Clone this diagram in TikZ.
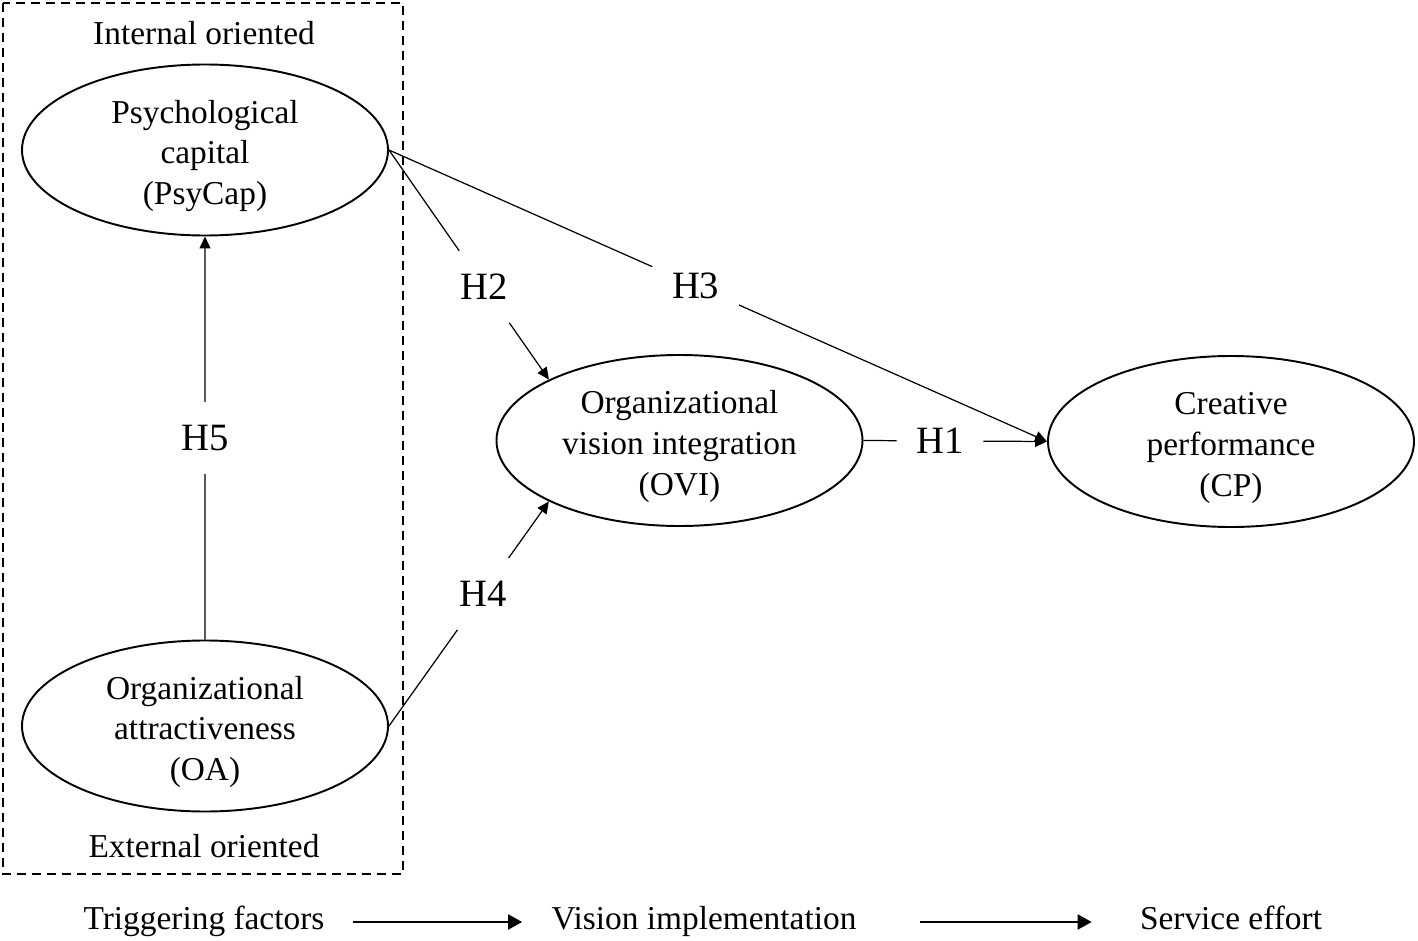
\documentclass[tikz,border=0pt]{standalone}
\usepackage{fontspec}
\setmainfont{Liberation Serif}
\usetikzlibrary{arrows.meta,positioning,calc,shapes.geometric}

\begin{document}
\begin{tikzpicture}[
    construct/.style={ellipse, draw, line width=1.1pt, minimum width=7.32cm, minimum height=3.42cm, inner sep=0pt, align=center, text height=62.5pt, text depth=0pt, font=\fontsize{19}{23.3}\selectfont},
    hyp/.style={font=\fontsize{22}{26}\selectfont, inner xsep=11pt, inner ysep=13pt},
    tag/.style={font=\fontsize{19}{23}\selectfont, inner sep=0pt, text height=13pt, text depth=4pt},
    link/.style={line width=0.7pt},
    arrow/.style={-{Triangle[length=0.24cm, width=0.22cm]}, line width=0.7pt},
    flow/.style={-{Triangle[length=0.28cm, width=0.3cm]}, line width=1.1pt}
]
\useasboundingbox (0,0) rectangle (28.36,-18.82);

% Triggering factors group
\draw[line width=1.1pt, dash pattern=on 0.18cm off 0.12cm] (0.06,-0.06) rectangle (8.06,-17.48);
\node[tag] (internal) at (4.08,-0.74) {Internal oriented};
\node[tag] (external) at (4.08,-17.00) {External oriented};

\node[construct] (psy) at (4.10,-3.00) {Psychological\\capital\\(PsyCap)};
\node[construct] (oa) at (4.10,-14.52) {Organizational\\attractiveness\\(OA)};

% Mediator and outcome
\node[construct] (ovi) at (13.59,-8.81) {Organizational\\vision integration\\(OVI)};
\node[construct] (cp) at (24.62,-8.83) {Creative\\performance\\(CP)};

% Hypotheses
\node[hyp] (h5) at ($(oa.north)!0.5!(psy.south)$) {H5};
\node[hyp] (h2) at ($(psy.east)!0.596!(ovi.155)$) {H2};
\node[hyp] (h3) at ($(psy.east)!0.466!(cp.west)$) {H3};
\node[hyp] (h4) at ($(oa.east)!0.588!(ovi.205)$) {H4};
\node[hyp] (h1) at ($(ovi.east)!0.417!(cp.west)$) {H1};

\draw[link] (oa.north) -- (h5);
\draw[arrow] (h5) -- (psy.south);
\draw[link] (psy.east) -- (h2);
\draw[arrow] (h2) -- (ovi.155);
\draw[link] (psy.east) -- (h3);
\draw[arrow] (h3) -- (cp.west);
\draw[link] (oa.east) -- (h4);
\draw[arrow] (h4) -- (ovi.205);
\draw[link] (ovi.east) -- (h1);
\draw[arrow] (h1) -- (cp.west);

% Stages
\node[tag] (trigger) at (4.08,-18.44) {Triggering factors};
\node[tag] (vision) at (14.08,-18.44) {Vision implementation};
\node[tag] (service) at (24.62,-18.44) {Service effort};

\draw[flow, shorten <=0.56cm, shorten >=0.58cm] (trigger) -- (vision);
\draw[flow, shorten <=1.26cm, shorten >=0.96cm] (vision) -- (service);

\end{tikzpicture}
\end{document}
